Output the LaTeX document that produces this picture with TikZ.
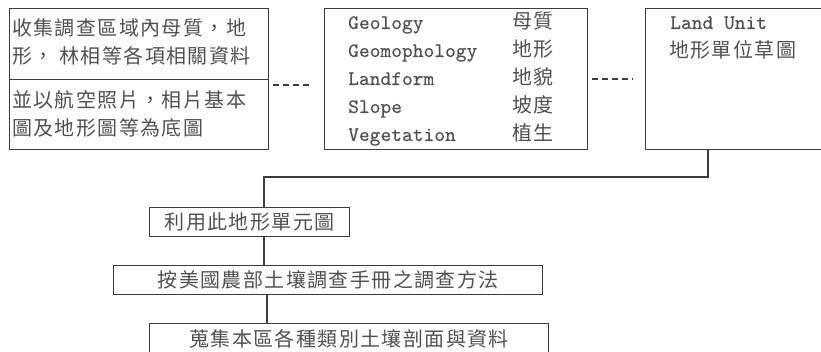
\documentclass[tikz,border=0pt]{standalone}
\usepackage{fontspec}
\newfontfamily\cjk[LetterSpace=7]{Noto Sans CJK TC}
\newfontfamily\lmmono[Extension=.otf, FakeBold=0.3]{lmmono10-regular}
\definecolor{txt}{HTML}{505050}
\definecolor{ln}{HTML}{3C3C3C}
\tikzset{
  box/.style={draw=ln, line width=1.3pt, rectangle, inner sep=0pt, anchor=north west,
    text=txt, font=\cjk\fontsize{20}{28}\selectfont},
  ct/.style={anchor=base west, inner sep=0pt, text=txt, font=\cjk\fontsize{20}{28}\selectfont},
  mt/.style={anchor=base west, inner sep=0pt, text=txt, font=\lmmono\fontsize{20.5}{28}\selectfont},
  conn/.style={draw=ln, line width=1.3pt},
  dashline/.style={draw=ln, line width=1.3pt, dash pattern=on 6pt off 4pt}
}
\begin{document}
\begin{tikzpicture}[x=1pt,y=-1pt]
\useasboundingbox (0,0) rectangle (821,352);
\clip (0,0) rectangle (821,352);
% boxes
\node[box, minimum width=259pt, minimum height=71pt] (b1a) at (9,8) {};
\node[box, minimum width=259pt, minimum height=70pt] (b1b) at (9,79) {};
\node[box, minimum width=263pt, minimum height=141pt] (b2) at (324,8) {};
\node[box, minimum width=190pt, minimum height=141pt] (b3) at (645,8) {};
\node[box, minimum width=200pt, minimum height=29pt] (b4) at (149,207) {利用此地形單元圖};
\node[box, minimum width=429pt, minimum height=29pt] (b5) at (113,265) {按美國農部土壤調查手冊之調查方法};
\node[box, minimum width=399pt, minimum height=30pt] (b6) at (149,323) {蒐集本區各種類別土壤剖面與資料};
% box 1 text
\node[ct] (t1) at (12,36) {收集調查區域內母質，地};
\node[ct] (t2) at (12,64) {形， 林相等各項相關資料};
\node[ct] (t3) at (12,108) {並以航空照片，相片基本};
\node[ct] (t4) at (12,136) {圖及地形圖等為底圖};
% box 2 text
\node[mt] (e1) at (348,29) {Geology};
\node[mt] (e2) at (348,57) {Geomophology};
\node[mt] (e3) at (348,85) {Landform};
\node[mt] (e4) at (348,113) {Slope};
\node[mt] (e5) at (348,141) {Vegetation};
\node[ct] (k1) at (512,29) {母質};
\node[ct] (k2) at (512,57) {地形};
\node[ct] (k3) at (512,85) {地貌};
\node[ct] (k4) at (512,113) {坡度};
\node[ct] (k5) at (512,141) {植生};
% box 3 text
\node[mt] (u1) at (670,29) {Land Unit};
\node[ct] (u2) at (669,58) {地形單位草圖};
% dashed links
\coordinate (d1a) at (273,85);
\coordinate (d1b) at (312,85);
\coordinate (d2a) at (592,79);
\coordinate (d2b) at (633,79);
\draw[dashline] (d1a) -- (d1b);
\draw[dashline] (d2a) -- (d2b);
% connectors
\coordinate (c1) at (708,177);
\coordinate (c2) at (264,177);
\coordinate (c3) at (267,300);
\draw[conn] (c1 |- b3.south) -- (c1) -- (c2) -- (c2 |- b4.north);
\draw[conn] (c2 |- b4.south) -- (c2 |- b5.north);
\draw[conn] (c3 |- b5.south) -- (c3 |- b6.north);
\end{tikzpicture}
\end{document}
